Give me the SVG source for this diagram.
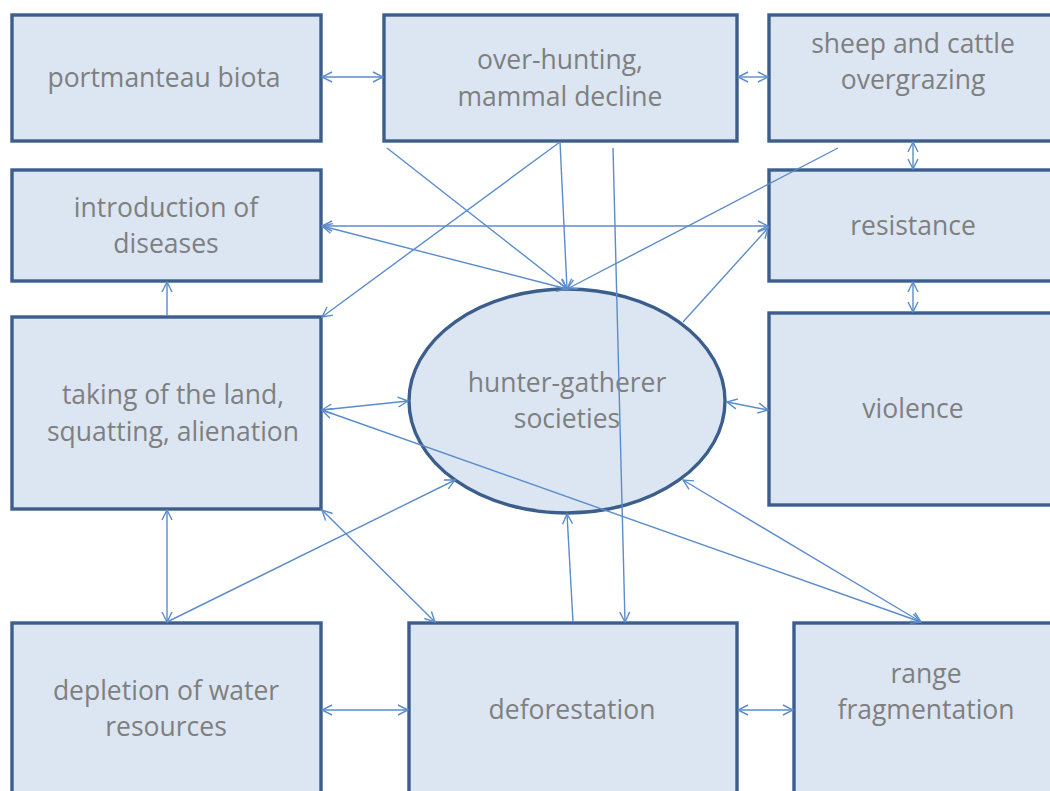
<svg xmlns="http://www.w3.org/2000/svg" width="1050" height="791" viewBox="0 0 1050 791">
<style>
.box{fill:#dce6f2;stroke:#3b5e8c;stroke-width:3.4}
.lbl{font-family:"Open Sans","Liberation Sans",sans-serif;font-size:26.5px;fill:#7f7f7f;text-anchor:middle}
.c line{stroke:#5b8ccb;stroke-width:1.4;fill:none}
.b{marker-start:url(#ah);marker-end:url(#ah)}
.e{marker-end:url(#ah)}
</style>
<defs>
<marker id="ah" viewBox="0 0 12 12" refX="11" refY="6" markerWidth="12" markerHeight="12" markerUnits="userSpaceOnUse" orient="auto-start-reverse">
<path d="M1,1 L11,6 L1,11" fill="none" stroke="#5b8ccb" stroke-width="1.4"/>
</marker>
</defs>
<rect width="1050" height="791" fill="#ffffff"/>
<g id="portmanteau"><rect class="box" x="12" y="15" width="309" height="126"/><text class="lbl" x="164" y="87">portmanteau biota</text></g>
<g id="overhunting"><rect class="box" x="384" y="15" width="353" height="126"/><text class="lbl" x="560" y="69">over-hunting,</text><text class="lbl" x="560" y="106">mammal decline</text></g>
<g id="sheep"><rect class="box" x="769" y="15" width="290" height="126"/><text class="lbl" x="913" y="53">sheep and cattle</text><text class="lbl" x="913" y="89">overgrazing</text></g>
<g id="diseases"><rect class="box" x="12" y="170" width="309" height="111"/><text class="lbl" x="166" y="217">introduction of</text><text class="lbl" x="166" y="253">diseases</text></g>
<g id="resistance"><rect class="box" x="769" y="170" width="290" height="111"/><text class="lbl" x="913" y="235">resistance</text></g>
<g id="taking"><rect class="box" x="12" y="317" width="309" height="192"/><text class="lbl" x="173" y="404">taking of the land,</text><text class="lbl" x="173" y="441">squatting, alienation</text></g>
<g id="violence"><rect class="box" x="769" y="313" width="290" height="192"/><text class="lbl" x="913" y="418">violence</text></g>
<g id="hunter"><ellipse class="box" cx="567" cy="401" rx="158" ry="112"/><text class="lbl" x="567" y="392">hunter-gatherer</text><text class="lbl" x="567" y="428">societies</text></g>
<g id="depletion"><rect class="box" x="12" y="623" width="309" height="180"/><text class="lbl" x="166" y="700">depletion of water</text><text class="lbl" x="166" y="736">resources</text></g>
<g id="deforestation"><rect class="box" x="409" y="623" width="328" height="180"/><text class="lbl" x="572" y="719">deforestation</text></g>
<g id="range"><rect class="box" x="794" y="623" width="265" height="180"/><text class="lbl" x="926" y="683">range</text><text class="lbl" x="926" y="719">fragmentation</text></g>
<g id="connectors" class="c">
<line class="b" x1="322" y1="77" x2="383" y2="77"/>
<line class="b" x1="738" y1="77" x2="768" y2="77"/>
<line class="b" x1="913" y1="142" x2="913" y2="169"/>
<line class="b" x1="913" y1="282" x2="913" y2="312"/>
<line class="b" x1="322" y1="226" x2="768" y2="226"/>
<line class="b" x1="322" y1="226" x2="567" y2="289"/>
<line class="e" x1="387" y1="148" x2="567" y2="289"/>
<line class="e" x1="560" y1="142" x2="567" y2="289"/>
<line class="e" x1="838" y1="148" x2="567" y2="289"/>
<line class="e" x1="560" y1="142" x2="322" y2="317"/>
<line class="e" x1="613" y1="148" x2="625" y2="622"/>
<line class="e" x1="683" y1="322" x2="768" y2="228"/>
<line class="b" x1="322" y1="410" x2="408" y2="401"/>
<line class="b" x1="322" y1="410" x2="921" y2="622"/>
<line class="b" x1="683" y1="480" x2="921" y2="622"/>
<line class="b" x1="727" y1="402" x2="768" y2="410"/>
<line class="e" x1="167" y1="316" x2="167" y2="282"/>
<line class="b" x1="167" y1="510" x2="167" y2="622"/>
<line class="e" x1="167" y1="622" x2="455" y2="480"/>
<line class="b" x1="322" y1="510" x2="435" y2="622"/>
<line class="e" x1="573" y1="622" x2="567" y2="514"/>
<line class="b" x1="322" y1="710" x2="408" y2="710"/>
<line class="b" x1="738" y1="710" x2="793" y2="710"/>
</g>
</svg>
